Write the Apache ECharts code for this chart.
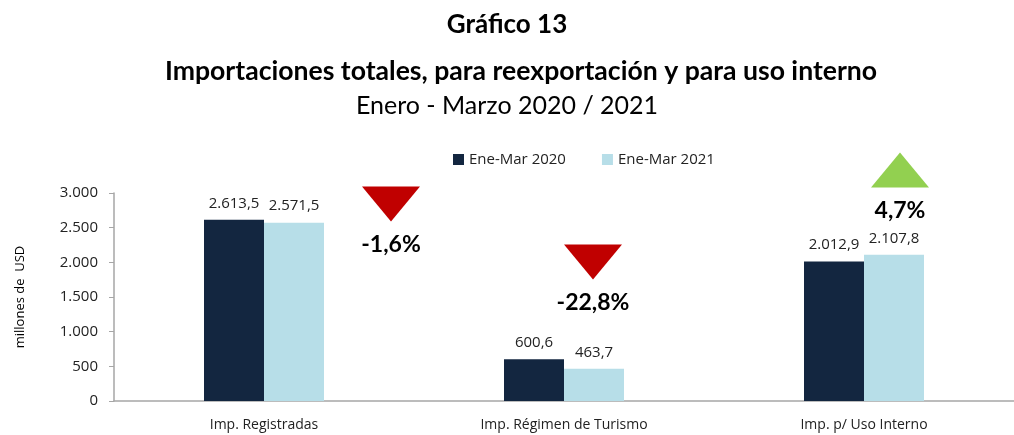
<!DOCTYPE html>
<html>
<head>
<meta charset="utf-8">
<script src="https://cdn.jsdelivr.net/npm/echarts@6/dist/echarts.min.js"></script>
<style>
html, body { margin: 0; padding: 0; background: #ffffff; }
#chart { width: 1014px; height: 435px; }
</style>
</head>
<body>
<div id="chart"></div>
<script>
// datos del gráfico
const categorias = ["Imp. Registradas", "Imp. Régimen de Turismo", "Imp. p/ Uso Interno"];
const serie2020 = [2613.5, 600.6, 2012.9];
const serie2021 = [2571.5, 463.7, 2107.8];
const variaciones = ["-1,6%", "-22,8%", "4,7%"];
const ticksY = [0, 500, 1000, 1500, 2000, 2500, 3000];

// formato español: 2.613,5
const fmt = (v, dec) => {
  const parts = v.toFixed(dec).split(".");
  parts[0] = parts[0].replace(/\B(?=(\d{3})+(?!\d))/g, ".");
  return parts.join(",");
};

const chart = echarts.init(document.getElementById("chart"));

// flechas de variación (anclaje en la barra 2020 + desplazamiento en px)
const flechas = [
  { coord: [0, 2841], offset: [157, 0], up: false },
  { coord: [1, 2005], offset: [59, 0], up: false },
  { coord: [2, 3000], offset: [66, -23], up: true },
];

const option = {
  backgroundColor: "#FFFFFF",
  textStyle: { fontFamily: "Open Sans" },
  title: [
    {
      text: "Gráfico 13",
      left: "center",
      top: 7,
      textStyle: { fontFamily: "Lato", fontWeight: "bold", fontSize: 26, color: "#000" },
    },
    {
      text: "Importaciones totales, para reexportación y para uso interno",
      left: 160,
      top: 53,
      textStyle: { fontFamily: "Lato", fontWeight: "bold", fontSize: 26.6, color: "#000" },
    },
    {
      text: "Enero - Marzo 2020 / 2021",
      left: "center",
      top: 88,
      textStyle: { fontFamily: "Lato", fontWeight: "normal", fontSize: 25, color: "#000" },
    },
  ],
  legend: {
    top: 147,
    left: 448,
    itemWidth: 11,
    itemHeight: 11,
    itemGap: 36,
    icon: "rect",
    textStyle: { fontSize: 15, color: "#222" },
    data: ["Ene-Mar 2020", "Ene-Mar 2021"],
  },
  grid: {
    left: 114,
    top: 193,
    width: 907,
    height: 208,
    containLabel: false,
  },
  xAxis: {
    type: "category",
    data: categorias,
    axisLine: { lineStyle: { color: "#A6A6A6", width: 1.5 } },
    axisTick: { show: false },
    axisLabel: { fontSize: 14, color: "#222", margin: 17 },
  },
  yAxis: {
    type: "value",
    min: ticksY[0],
    max: ticksY[ticksY.length - 1],
    interval: 500,
    name: "millones de  USD",
    nameLocation: "middle",
    nameGap: 87,
    nameTextStyle: { fontSize: 13, color: "#000" },
    axisLine: { show: true, lineStyle: { color: "#A6A6A6", width: 1.5 } },
    axisTick: { show: true, length: 5, lineStyle: { color: "#A6A6A6" } },
    splitLine: { show: false },
    axisLabel: {
      fontSize: 15,
      color: "#222",
      margin: 16,
      formatter: (v) => fmt(v, 0),
    },
  },
  series: [
    {
      name: "Ene-Mar 2020",
      type: "bar",
      barWidth: 60,
      barGap: "0%",
      data: serie2020,
      itemStyle: { color: "#132640" },
      label: {
        show: true,
        position: "top",
        distance: 9,
        fontSize: 15,
        color: "#222",
        formatter: (p) => fmt(p.value, 1),
      },
      markPoint: {
        silent: true,
        data: flechas.map((f, i) => ({
          coord: f.coord,
          symbol: "triangle",
          symbolSize: [58, 35],
          symbolRotate: f.up ? 0 : 180,
          symbolOffset: f.offset,
          itemStyle: { color: f.up ? "#92D050" : "#C00000" },
          label: {
            show: true,
            position: "bottom",
            distance: 12,
            formatter: variaciones[i],
            fontFamily: "Lato",
            fontWeight: "bold",
            fontSize: 23,
            color: "#000",
          },
        })),
      },
    },
    {
      name: "Ene-Mar 2021",
      type: "bar",
      barWidth: 60,
      data: serie2021,
      itemStyle: { color: "#B7DEE8" },
      label: {
        show: true,
        position: "top",
        distance: 9,
        fontSize: 15,
        color: "#222",
        formatter: (p) => fmt(p.value, 1),
      },
    },
  ],
};

chart.setOption(option);
</script>
</body>
</html>
